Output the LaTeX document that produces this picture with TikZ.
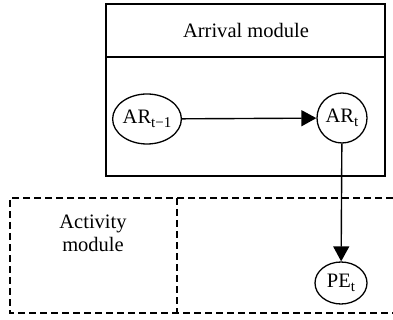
\documentclass[tikz,border=0pt]{standalone}
\usepackage{fontspec}
\setmainfont{Liberation Serif}
\usetikzlibrary{arrows.meta,shapes.geometric}
\newcommand{\sbs}[1]{\raisebox{-0.22em}{\fontsize{15}{15}\selectfont #1}}
\begin{document}
\begin{tikzpicture}[x=1pt,y=-1pt,
  every node/.style={font=\fontsize{20.5}{23}\selectfont},
  modbox/.style={draw,line width=1.3pt},
  dashbox/.style={draw,line width=1.3pt,dash pattern=on 7pt off 4pt},
  var/.style={draw,ellipse,line width=1.3pt,inner sep=0pt},
  conn/.style={line width=1.4pt,-{Triangle[length=15pt,width=16pt]}}]
\useasboundingbox (0,0) rectangle (393,320);
% arrival module
\draw[modbox] (106,4) rectangle (385,176);
\draw[modbox] (106,57) -- (385,57);
\node (arr) at (246,30) {Arrival module};
% activity module
\draw[dashbox] (393,198) -- (10,198) -- (10,313) -- (393,313);
\draw[dashbox] (177,198) -- (177,313);
\node[align=center] (act) at (93,233) {Activity\\module};
% variables
\node[var,minimum width=57pt,minimum height=50pt] (ar1) at (147,119) {AR\sbs{t\textminus 1}};
\node[var,minimum width=50pt,minimum height=50pt] (ar) at (342,118) {AR\sbs{t}};
\node[var,minimum width=52pt,minimum height=42pt] (pe) at (341,283) {PE\sbs{t}};
\draw[conn] (ar1) -- (ar);
\draw[conn] (ar) -- (pe);
\end{tikzpicture}
\end{document}
